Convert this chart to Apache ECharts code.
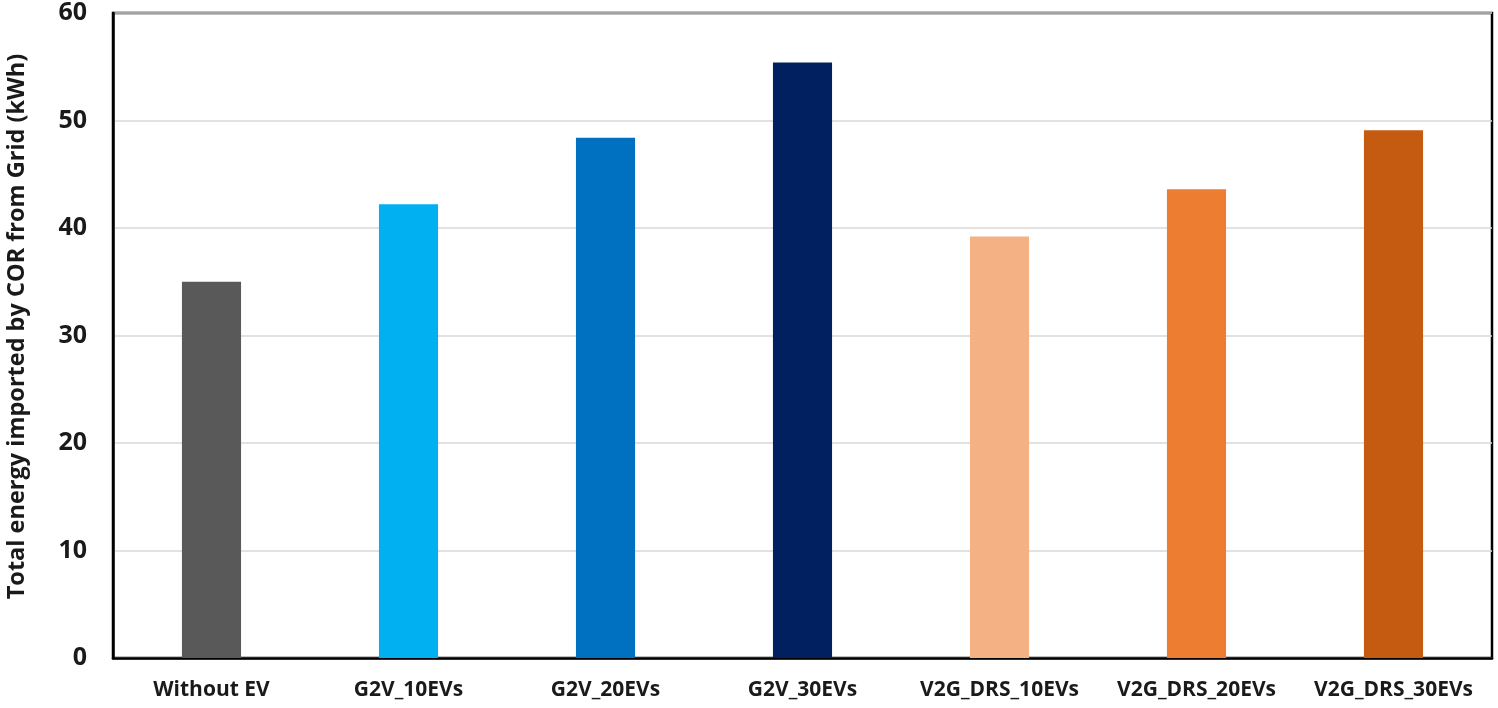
<!DOCTYPE html>
<html>
<head>
<meta charset="utf-8">
<script src="https://cdn.jsdelivr.net/npm/echarts@6/dist/echarts.min.js"></script>
<style>html,body{margin:0;padding:0;background:#fff}#c{width:1498px;height:708px}</style>
</head>
<body>
<div id="c"></div>
<script>
const categories = ['Without EV', 'G2V_10EVs', 'G2V_20EVs', 'G2V_30EVs', 'V2G_DRS_10EVs', 'V2G_DRS_20EVs', 'V2G_DRS_30EVs'];
const values = [35.0, 42.2, 48.4, 55.4, 39.2, 43.6, 49.1];
const barColors = ['#595959', '#00B0F0', '#0070C0', '#002060', '#F4B183', '#ED7D31', '#C55A11'];
const yTicks = { min: 0, max: 60, interval: 10 };
const yName = 'Total energy imported by COR from Grid (kWh)';

const chart = echarts.init(document.getElementById('c'), null, { renderer: 'canvas' });
const font = '"Open Sans", "Liberation Sans", sans-serif';
chart.setOption({
  animation: false,
  backgroundColor: '#fff',
  grid: { left: 113, right: 6, top: 13, bottom: 50, outerBoundsMode: 'none', containLabel: false, show: true, borderColor: '#000', borderWidth: 2.5, backgroundColor: 'transparent' },
  xAxis: {
    type: 'category',
    data: categories,
    axisLine: { show: true, lineStyle: { color: '#000', width: 2.5 } },
    axisTick: { show: false },
    axisLabel: { color: '#1a1a1a', fontSize: 21, fontWeight: 'bold', fontFamily: font, margin: 22, interval: 0 }
  },
  yAxis: {
    type: 'value',
    min: yTicks.min, max: yTicks.max, interval: yTicks.interval,
    name: yName,
    nameLocation: 'middle',
    nameGap: 84,
    nameTextStyle: { color: '#1a1a1a', fontSize: 23.5, fontWeight: 'bold', fontFamily: font, padding: [0, 0, 0, 18] },
    axisLine: { show: true, lineStyle: { color: '#000', width: 2.5 } },
    axisTick: { show: false },
    splitLine: { show: true, lineStyle: { color: '#d9d9d9', width: 1.5 } },
    axisLabel: { color: '#1a1a1a', fontSize: 25, fontWeight: 'bold', fontFamily: font, margin: 26 }
  },
  series: [{
    type: 'bar',
    data: values.map((v, i) => ({ value: v, itemStyle: { color: barColors[i] } })),
    barWidth: '30%'
  }]
});
</script>
</body>
</html>
